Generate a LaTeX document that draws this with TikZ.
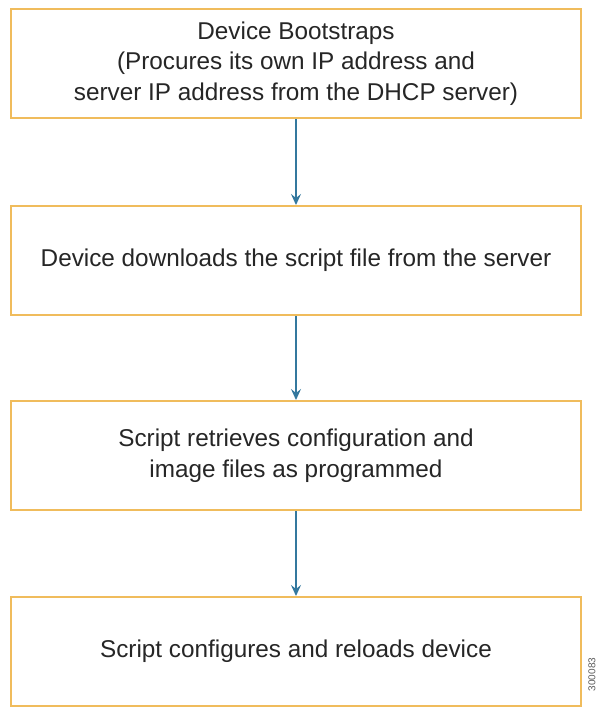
\documentclass[tikz,border=0pt]{standalone}
\usepackage{fontspec}
\setmainfont{Liberation Sans}
\usetikzlibrary{positioning,arrows.meta}
\definecolor{boxgold}{RGB}{240,188,92}
\definecolor{flowblue}{RGB}{52,120,158}
\definecolor{figgray}{RGB}{90,90,90}

\begin{document}
\begin{tikzpicture}[
    stepbox/.style={rectangle, draw=boxgold, line width=2pt, fill=white,
        minimum width=570pt, minimum height=109pt, align=center,
        font=\fontsize{24.3}{30.5}\selectfont, text=black!85},
    flowarrow/.style={-{Stealth[length=11pt,width=10pt,inset=4pt]}, flowblue, line width=1.3pt}
]
    \useasboundingbox (-296pt,63.5pt) rectangle (301pt,-645.5pt);

    % Bootstrap
    \node[stepbox] (boot) at (0,0) {
        Device Bootstraps \\
        (Procures its own IP address and \\
        server IP address from the DHCP server)
    };

    % Download script
    \node[stepbox, below=86pt of boot] (download) {Device downloads the script file from the server};
    \draw[flowarrow] (boot) -- (download);

    % Retrieve files
    \node[stepbox, below=84pt of download] (retrieve) {
        Script retrieves configuration and \\
        image files as programmed
    };
    \draw[flowarrow] (download) -- (retrieve);

    % Configure and reload
    \node[stepbox, below=85pt of retrieve] (reload) {Script configures and reloads device};
    \draw[flowarrow] (retrieve) -- (reload);

    % Figure number
    \node[rotate=90, text=figgray, font=\fontsize{10}{10}\selectfont, inner sep=0pt] (figid) at (296pt,-611pt) {300083};
\end{tikzpicture}
\end{document}
